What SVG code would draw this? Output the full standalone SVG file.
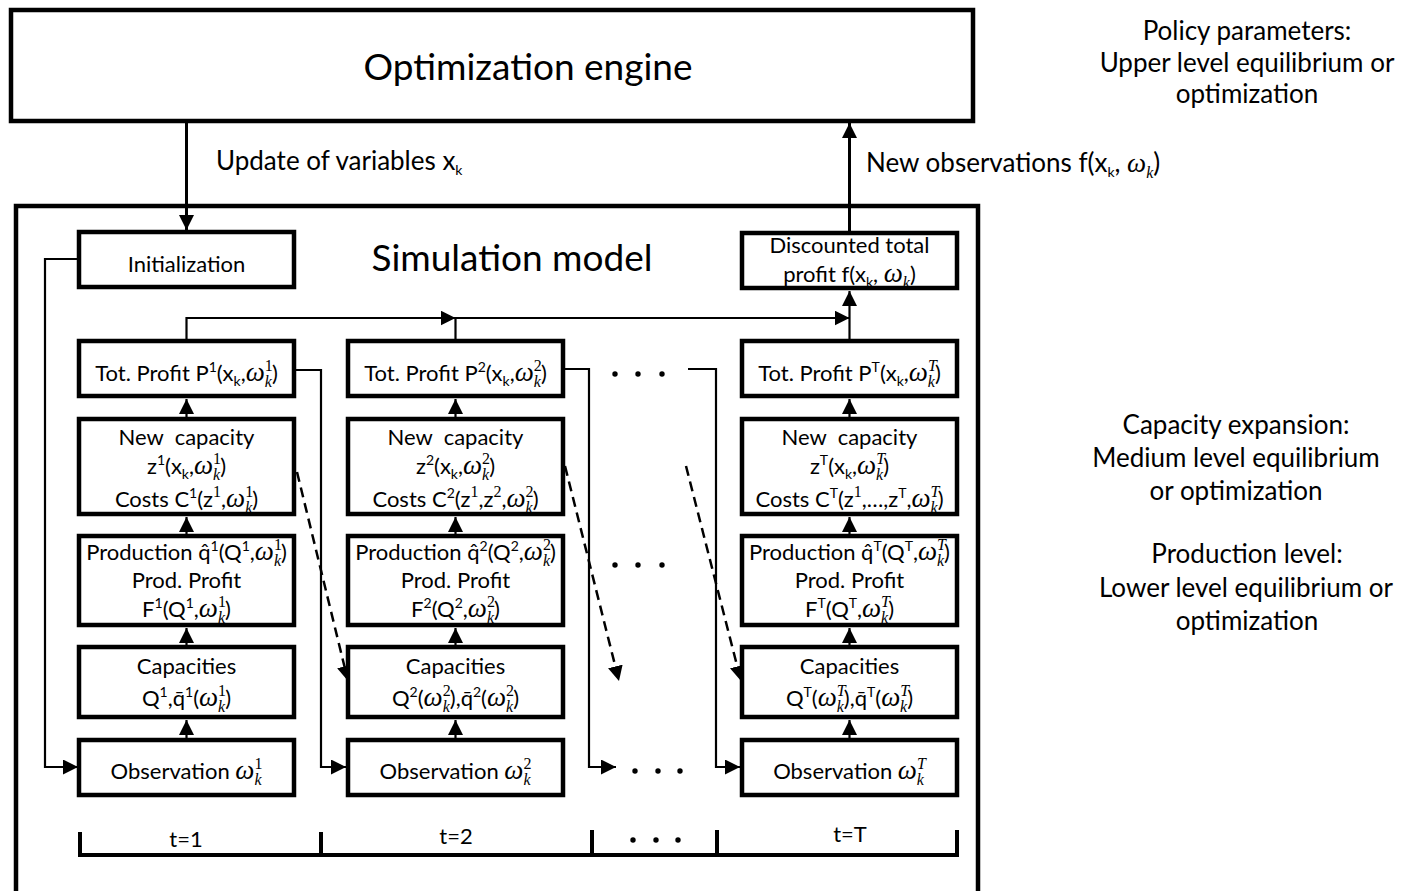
<svg xmlns="http://www.w3.org/2000/svg" width="1412" height="891" viewBox="0 0 1412 891">
<style>
.bx{fill:#fff;stroke:#000;stroke-width:4.5}
.t{font-family:Lato,"Liberation Sans",sans-serif;font-size:22px;fill:#000;text-anchor:middle}
.l{text-anchor:start}
.big{font-size:37px}
.side{font-size:26px}
.sp{font-size:14px;baseline-shift:9px}
.sb{font-size:14px;baseline-shift:-5px}
.m{font-family:"Liberation Serif","DejaVu Serif",serif;font-style:italic;font-size:27px}
.ms{font-family:"Liberation Serif","DejaVu Serif",serif;font-size:16px;baseline-shift:10px}
.mt{font-family:"Liberation Serif","DejaVu Serif",serif;font-style:italic;font-size:16px;baseline-shift:10px}
.mk{font-family:"Liberation Serif","DejaVu Serif",serif;font-style:italic;font-size:16px;baseline-shift:-6px}
.cn{fill:none;stroke:#000;stroke-width:2.2}
.thick{stroke-width:3}
.dash{stroke-dasharray:10 6;stroke-width:2.5}
.tl{fill:none;stroke:#000;stroke-width:4}
.dot{fill:#000}
</style>
<defs>
<marker id="ah" viewBox="0 0 15 15" markerWidth="15" markerHeight="15" refX="15" refY="7.5" orient="auto" markerUnits="userSpaceOnUse"><path d="M0,0 L15,7.5 L0,15 Z" fill="#000"/></marker>
</defs>

<g id="optimization-engine">
<rect class="bx" x="11" y="10" width="962" height="111"/>
<text class="t big" x="528" y="80">Optimization engine</text>
</g>

<g id="simulation-model">
<rect class="bx" x="16" y="206" width="962" height="700"/>
<text class="t big" x="512" y="271">Simulation model</text>
</g>

<g id="connectors">
<line class="cn thick" x1="186.5" y1="123" x2="186.5" y2="230" marker-end="url(#ah)"/>
<line class="cn thick" x1="849.5" y1="231" x2="849.5" y2="123" marker-end="url(#ah)"/>
<path class="cn" d="M186.5,339 V318 H455.5" marker-end="url(#ah)"/>
<path class="cn" d="M455.5,339 V318 H849.5" marker-end="url(#ah)"/>
<line class="cn" x1="849.5" y1="339" x2="849.5" y2="291" marker-end="url(#ah)"/>
<path class="cn" d="M78,259 H45 V767 H78" marker-end="url(#ah)"/>
<path class="cn" d="M296,370 H321 V767 H346" marker-end="url(#ah)"/>
<path class="cn" d="M565,369 H589 V767 H616" marker-end="url(#ah)"/>
<path class="cn" d="M688,369 H716 V767 H740" marker-end="url(#ah)"/>
<line class="cn" x1="186.5" y1="417" x2="186.5" y2="399" marker-end="url(#ah)"/>
<line class="cn" x1="186.5" y1="534" x2="186.5" y2="517" marker-end="url(#ah)"/>
<line class="cn" x1="186.5" y1="645" x2="186.5" y2="628" marker-end="url(#ah)"/>
<line class="cn" x1="186.5" y1="738" x2="186.5" y2="720" marker-end="url(#ah)"/>
<line class="cn" x1="455.5" y1="417" x2="455.5" y2="399" marker-end="url(#ah)"/>
<line class="cn" x1="455.5" y1="534" x2="455.5" y2="517" marker-end="url(#ah)"/>
<line class="cn" x1="455.5" y1="645" x2="455.5" y2="628" marker-end="url(#ah)"/>
<line class="cn" x1="455.5" y1="738" x2="455.5" y2="720" marker-end="url(#ah)"/>
<line class="cn" x1="849.5" y1="417" x2="849.5" y2="399" marker-end="url(#ah)"/>
<line class="cn" x1="849.5" y1="534" x2="849.5" y2="517" marker-end="url(#ah)"/>
<line class="cn" x1="849.5" y1="645" x2="849.5" y2="628" marker-end="url(#ah)"/>
<line class="cn" x1="849.5" y1="738" x2="849.5" y2="720" marker-end="url(#ah)"/>
<line class="cn dash" x1="297" y1="472" x2="348" y2="681" marker-end="url(#ah)"/>
<line class="cn dash" x1="565" y1="466" x2="619" y2="681" marker-end="url(#ah)"/>
<line class="cn dash" x1="686" y1="466" x2="741" y2="681" marker-end="url(#ah)"/>
</g>

<g id="labels">
<text class="t side l" x="216" y="170">Update of variables x<tspan class="sb">k</tspan></text>
<text class="t side l" x="866" y="172">New observations f(x<tspan class="sb">k</tspan>, <tspan class="m">ω</tspan><tspan class="mk">k</tspan>)</text>
<text class="t side" x="1247" y="40">Policy parameters:</text>
<text class="t side" x="1247" y="72">Upper level equilibrium or</text>
<text class="t side" x="1247" y="103">optimization</text>
<text class="t side" x="1236" y="434">Capacity expansion:</text>
<text class="t side" x="1236" y="467">Medium level equilibrium</text>
<text class="t side" x="1236" y="500">or optimization</text>
<text class="t side" x="1247" y="563">Production level:</text>
<text class="t side" x="1246" y="597">Lower level equilibrium or</text>
<text class="t side" x="1247" y="630">optimization</text>
</g>

<g id="dots">
<circle class="dot" cx="615" cy="374" r="2.7"/><circle class="dot" cx="638" cy="374" r="2.7"/><circle class="dot" cx="662" cy="374" r="2.7"/>
<circle class="dot" cx="615" cy="565" r="2.7"/><circle class="dot" cx="638" cy="565" r="2.7"/><circle class="dot" cx="662" cy="565" r="2.7"/>
<circle class="dot" cx="635" cy="771" r="2.7"/><circle class="dot" cx="658" cy="771" r="2.7"/><circle class="dot" cx="680" cy="771" r="2.7"/>
<circle class="dot" cx="633" cy="840" r="2.7"/><circle class="dot" cx="656" cy="840" r="2.7"/><circle class="dot" cx="678" cy="840" r="2.7"/>
</g>

<g id="timeline">
<path class="tl" d="M80,832 V855 H957 V830"/>
<path class="tl" d="M321,832 V855 M592,830 V855 M717,830 V855"/>
<text class="t" x="186" y="847">t=1</text>
<text class="t" x="456" y="844">t=2</text>
<text class="t" x="850" y="842">t=T</text>
</g>

<g id="initialization">
<rect class="bx" x="79" y="232" width="215" height="55"/>
<text class="t" x="186.5" y="272">Initialization</text>
</g>
<g id="discounted-total-profit">
<rect class="bx" x="742" y="233" width="215" height="55"/>
<text class="t" x="849.5" y="253">Discounted total</text>
<text class="t" x="849.5" y="282">profit f(x<tspan class="sb">k</tspan>, <tspan class="m">ω</tspan><tspan class="mk">k</tspan>)</text>
</g>

<g id="tot-profit-1">
<rect class="bx" x="79" y="341" width="215" height="55"/>
<text class="t" x="186.5" y="381">Tot. Profit P<tspan class="sp">1</tspan>(x<tspan class="sb">k</tspan>,<tspan class="m">ω</tspan><tspan class="ms">1</tspan><tspan class="mk" dx="-8">k</tspan>)</text>
</g>
<g id="new-capacity-1">
<rect class="bx" x="79" y="419" width="215" height="95"/>
<text class="t" x="186.5" y="445" xml:space="preserve">New  capacity</text>
<text class="t" x="186.5" y="474">z<tspan class="sp">1</tspan>(x<tspan class="sb">k</tspan>,<tspan class="m">ω</tspan><tspan class="ms">1</tspan><tspan class="mk" dx="-8">k</tspan>)</text>
<text class="t" x="186.5" y="507">Costs C<tspan class="sp">1</tspan>(z<tspan class="ms">1</tspan>,<tspan class="m">ω</tspan><tspan class="ms">1</tspan><tspan class="mk" dx="-8">k</tspan>)</text>
</g>
<g id="production-1">
<rect class="bx" x="79" y="536" width="215" height="89"/>
<text class="t" x="186.5" y="560">Production q̂<tspan class="sp">1</tspan>(Q<tspan class="sp">1</tspan>,<tspan class="m">ω</tspan><tspan class="ms">1</tspan><tspan class="mk" dx="-8">k</tspan>)</text>
<text class="t" x="186.5" y="588">Prod. Profit</text>
<text class="t" x="186.5" y="617">F<tspan class="sp">1</tspan>(Q<tspan class="sp">1</tspan>,<tspan class="m">ω</tspan><tspan class="ms">1</tspan><tspan class="mk" dx="-8">k</tspan>)</text>
</g>
<g id="capacities-1">
<rect class="bx" x="79" y="647" width="215" height="70"/>
<text class="t" x="186.5" y="674">Capacities</text>
<text class="t" x="186.5" y="706">Q<tspan class="sp">1</tspan>,q̄<tspan class="sp">1</tspan>(<tspan class="m">ω</tspan><tspan class="ms">1</tspan><tspan class="mk" dx="-8">k</tspan>)</text>
</g>
<g id="observation-1">
<rect class="bx" x="79" y="740" width="215" height="55"/>
<text class="t" x="186.5" y="779">Observation <tspan class="m">ω</tspan><tspan class="ms">1</tspan><tspan class="mk" dx="-8">k</tspan></text>
</g>

<g id="tot-profit-2">
<rect class="bx" x="348" y="341" width="215" height="55"/>
<text class="t" x="455.5" y="381">Tot. Profit P<tspan class="sp">2</tspan>(x<tspan class="sb">k</tspan>,<tspan class="m">ω</tspan><tspan class="ms">2</tspan><tspan class="mk" dx="-8">k</tspan>)</text>
</g>
<g id="new-capacity-2">
<rect class="bx" x="348" y="419" width="215" height="95"/>
<text class="t" x="455.5" y="445" xml:space="preserve">New  capacity</text>
<text class="t" x="455.5" y="474">z<tspan class="sp">2</tspan>(x<tspan class="sb">k</tspan>,<tspan class="m">ω</tspan><tspan class="ms">2</tspan><tspan class="mk" dx="-8">k</tspan>)</text>
<text class="t" x="455.5" y="507">Costs C<tspan class="sp">2</tspan>(z<tspan class="ms">1</tspan>,z<tspan class="ms">2</tspan>,<tspan class="m">ω</tspan><tspan class="ms">2</tspan><tspan class="mk" dx="-8">k</tspan>)</text>
</g>
<g id="production-2">
<rect class="bx" x="348" y="536" width="215" height="89"/>
<text class="t" x="455.5" y="560">Production q̂<tspan class="sp">2</tspan>(Q<tspan class="sp">2</tspan>,<tspan class="m">ω</tspan><tspan class="ms">2</tspan><tspan class="mk" dx="-8">k</tspan>)</text>
<text class="t" x="455.5" y="588">Prod. Profit</text>
<text class="t" x="455.5" y="617">F<tspan class="sp">2</tspan>(Q<tspan class="sp">2</tspan>,<tspan class="m">ω</tspan><tspan class="ms">2</tspan><tspan class="mk" dx="-8">k</tspan>)</text>
</g>
<g id="capacities-2">
<rect class="bx" x="348" y="647" width="215" height="70"/>
<text class="t" x="455.5" y="674">Capacities</text>
<text class="t" x="455.5" y="706">Q<tspan class="sp">2</tspan>(<tspan class="m">ω</tspan><tspan class="ms">2</tspan><tspan class="mk" dx="-8">k</tspan>),q̄<tspan class="sp">2</tspan>(<tspan class="m">ω</tspan><tspan class="ms">2</tspan><tspan class="mk" dx="-8">k</tspan>)</text>
</g>
<g id="observation-2">
<rect class="bx" x="348" y="740" width="215" height="55"/>
<text class="t" x="455.5" y="779">Observation <tspan class="m">ω</tspan><tspan class="ms">2</tspan><tspan class="mk" dx="-8">k</tspan></text>
</g>

<g id="tot-profit-T">
<rect class="bx" x="742" y="341" width="215" height="55"/>
<text class="t" x="849.5" y="381">Tot. Profit P<tspan class="sp">T</tspan>(x<tspan class="sb">k</tspan>,<tspan class="m">ω</tspan><tspan class="mt">T</tspan><tspan class="mk" dx="-9">k</tspan>)</text>
</g>
<g id="new-capacity-T">
<rect class="bx" x="742" y="419" width="215" height="95"/>
<text class="t" x="849.5" y="445" xml:space="preserve">New  capacity</text>
<text class="t" x="849.5" y="474">z<tspan class="sp">T</tspan>(x<tspan class="sb">k</tspan>,<tspan class="m">ω</tspan><tspan class="mt">T</tspan><tspan class="mk" dx="-9">k</tspan>)</text>
<text class="t" x="849.5" y="507">Costs C<tspan class="sp">T</tspan>(z<tspan class="ms">1</tspan>,…,z<tspan class="sp">T</tspan>,<tspan class="m">ω</tspan><tspan class="mt">T</tspan><tspan class="mk" dx="-9">k</tspan>)</text>
</g>
<g id="production-T">
<rect class="bx" x="742" y="536" width="215" height="89"/>
<text class="t" x="849.5" y="560">Production q̂<tspan class="sp">T</tspan>(Q<tspan class="sp">T</tspan>,<tspan class="m">ω</tspan><tspan class="mt">T</tspan><tspan class="mk" dx="-9">k</tspan>)</text>
<text class="t" x="849.5" y="588">Prod. Profit</text>
<text class="t" x="849.5" y="617">F<tspan class="sp">T</tspan>(Q<tspan class="sp">T</tspan>,<tspan class="m">ω</tspan><tspan class="mt">T</tspan><tspan class="mk" dx="-9">k</tspan>)</text>
</g>
<g id="capacities-T">
<rect class="bx" x="742" y="647" width="215" height="70"/>
<text class="t" x="849.5" y="674">Capacities</text>
<text class="t" x="849.5" y="706">Q<tspan class="sp">T</tspan>(<tspan class="m">ω</tspan><tspan class="mt">T</tspan><tspan class="mk" dx="-9">k</tspan>),q̄<tspan class="sp">T</tspan>(<tspan class="m">ω</tspan><tspan class="mt">T</tspan><tspan class="mk" dx="-9">k</tspan>)</text>
</g>
<g id="observation-T">
<rect class="bx" x="742" y="740" width="215" height="55"/>
<text class="t" x="849.5" y="779">Observation <tspan class="m">ω</tspan><tspan class="mt">T</tspan><tspan class="mk" dx="-9">k</tspan></text>
</g>
</svg>
